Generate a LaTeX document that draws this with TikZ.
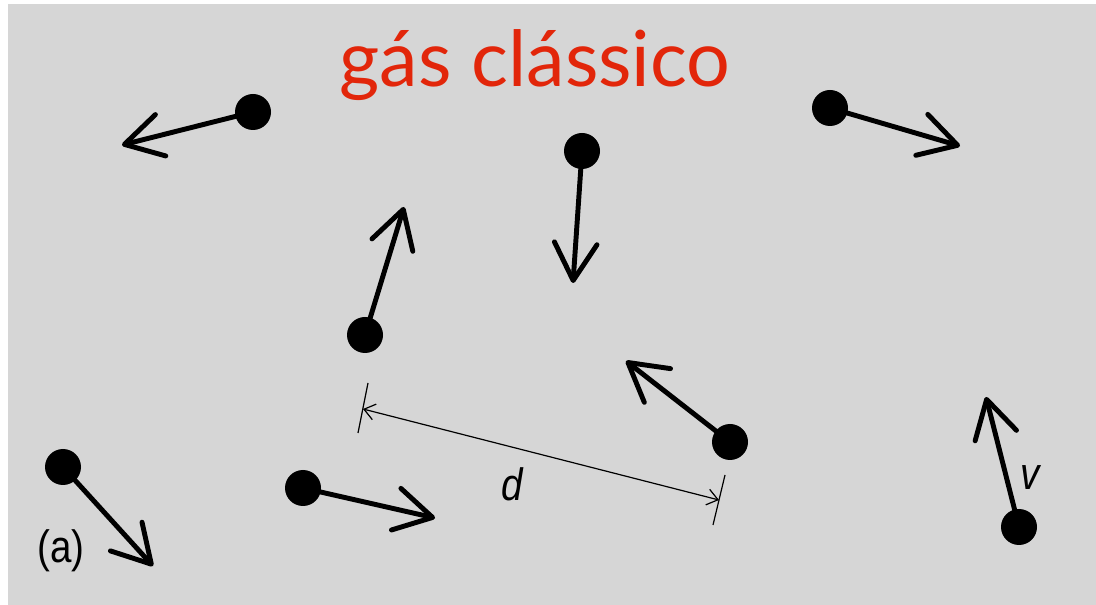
\documentclass[tikz,border=0pt]{standalone}
\usepackage{fontspec}
\setmainfont{Liberation Sans}
\newfontfamily\titlefont{Lato}
\usetikzlibrary{arrows.meta}
\definecolor{bggray}{RGB}{214,214,214}
\definecolor{titlered}{RGB}{226,38,10}
\tikzset{
  particle/.style={circle,fill=black,inner sep=0pt,minimum size=27pt},
  velocity/.style={line width=3.7pt,line cap=round,-{Straight Barb[length=28pt,width=32pt,line cap=round,line join=round]}},
  dimline/.style={line width=0.9pt,{Straight Barb[length=8pt,width=12pt]}-{Straight Barb[length=8pt,width=12pt]}},
  tickline/.style={line width=0.9pt},
  lbl/.style={inner sep=0pt,font=\fontsize{34}{40}\selectfont,xscale=0.85}
}
\begin{document}
\begin{tikzpicture}[x=0.75pt,y=-0.75pt]
\useasboundingbox (0,0) rectangle (1096,605);
\fill[white] (0,0) rectangle (1096,605);
\fill[bggray] (8,4) rectangle (1096,605);
\node[text=titlered,font=\titlefont\fontsize{58}{64}\selectfont,inner sep=0pt,anchor=base] (title) at (535,87) {gás clássico};
% particles
\node[particle] (p1) at (253,112) {};
\node[particle] (p2) at (830,108) {};
\node[particle] (p3) at (582,151) {};
\node[particle] (p4) at (365,335) {};
\node[particle] (p5) at (730,442) {};
\node[particle] (p6) at (63,467) {};
\node[particle] (p7) at (303,488) {};
\node[particle] (p8) at (1019,527) {};
% velocity tips
\coordinate (t1) at (122,145);
\coordinate (t2) at (960,146);
\coordinate (t3) at (573,283);
\coordinate (t4) at (404,207);
\coordinate (t5) at (626,361);
\coordinate (t6) at (153,566);
\coordinate (t7) at (435,518);
\coordinate (t8) at (986,397);
\foreach \i in {1,...,8} \draw[velocity] (p\i.center) -- (t\i);
% distance
\coordinate (a1) at (368,383);
\coordinate (a2) at (358,433);
\coordinate (b1) at (725,475);
\coordinate (b2) at (713,525);
\coordinate (da) at (363,409);
\coordinate (db) at (719,500);
\draw[tickline] (a1) -- (a2);
\draw[tickline] (b1) -- (b2);
\draw[dimline] (da) -- (db);
\node[lbl,font=\fontsize{34}{40}\selectfont\itshape] (d) at (512,484) {d};
\node[lbl,font=\fontsize{34}{40}\selectfont\itshape] (v) at (1030,478) {v};
\node[lbl] (a) at (61,551) {(a)};
\end{tikzpicture}
\end{document}
